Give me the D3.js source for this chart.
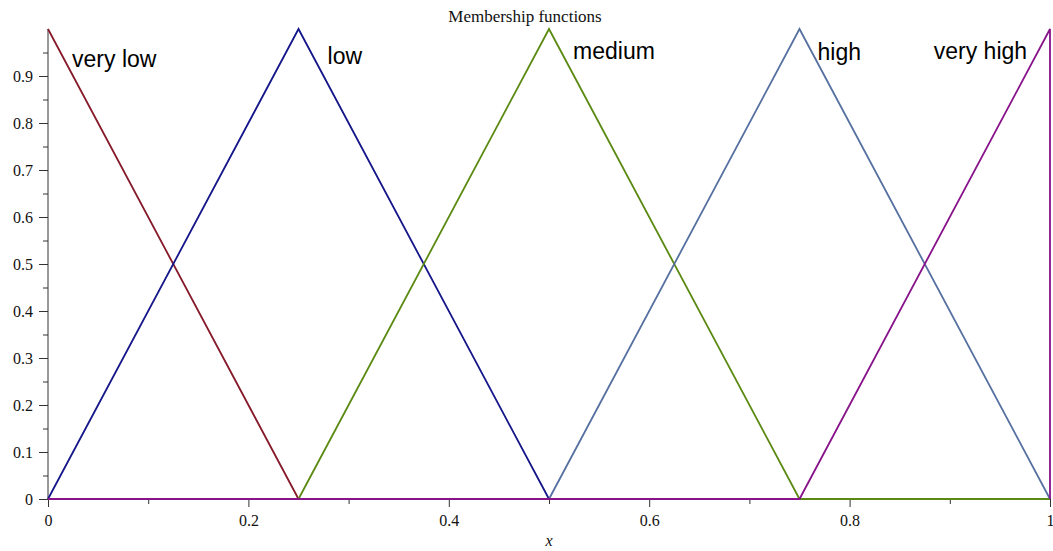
<!DOCTYPE html>
<html lang="en">
<head>
    <meta charset="UTF-8">
    <title>Membership functions</title>
    <script type="text/javascript" src="https://cdn.jsdelivr.net/npm/d3@7/dist/d3.min.js"></script>
    <style>
        body { margin: 0; background: #fff; }
        .tick text { font-family: "Liberation Serif", "Times New Roman", serif; font-size: 16px; fill: #111; }
        .domain, .tick line { stroke: #333; }
    </style>
</head>
<body>
    <script type="text/javascript">
        // breakpoints of each membership function (x, membership)
        var names = ["very low", "low", "medium", "high", "very high"];
        var colors = ["#861a2a", "#15168a", "#5b8a12", "#5670a0", "#88128a"];
        var veryLow = [[0, 1], [0.25, 0], [1, 0]];
        var low = [[0, 0], [0.25, 1], [0.5, 0], [1, 0]];
        var medium = [[0, 0], [0.25, 0], [0.5, 1], [0.75, 0], [1, 0]];
        var high = [[0, 0], [0.5, 0], [0.75, 1], [1, 0]];
        var veryHigh = [[0, 0], [0.75, 0], [1, 1], [1, 0]];
        var series = [veryLow, low, medium, high, veryHigh];

        // label anchor points in data units
        var labelPos = [[0.024, 0.919], [0.279, 0.926], [0.524, 0.937], [0.768, 0.935], [0.884, 0.937]];

        var w = 1053, h = 551;
        var svg = d3.select("body").append("svg")
            .attr("width", w)
            .attr("height", h);

        var xScale = d3.scaleLinear().domain([0, 1]).range([48, 1050]);
        var yScale = d3.scaleLinear().domain([0, 1]).range([499, 29]);

        // minor ticks first
        svg.append("g")
            .attr("transform", "translate(0,499)")
            .call(d3.axisBottom(xScale).tickValues(d3.range(0.1, 1, 0.2)).tickSize(5).tickFormat(""))
            .call(function(g) { g.select(".domain").remove(); });
        svg.append("g")
            .attr("transform", "translate(48,0)")
            .call(d3.axisLeft(yScale).tickValues(d3.range(0.05, 1, 0.1)).tickSize(5).tickFormat(""))
            .call(function(g) { g.select(".domain").remove(); });

        svg.append("g")
            .attr("transform", "translate(0,499)")
            .call(d3.axisBottom(xScale).tickValues([0, 0.2, 0.4, 0.6, 0.8, 1]).tickSize(8).tickSizeOuter(0)
                .tickFormat(function(d) { return d === 0 || d === 1 ? d : d.toFixed(1); }))
            .call(function(g) { g.selectAll(".tick text").attr("dy", "1.0em"); });

        svg.append("g")
            .attr("transform", "translate(48,0)")
            .call(d3.axisLeft(yScale).tickValues([0, 0.1, 0.2, 0.3, 0.4, 0.5, 0.6, 0.7, 0.8, 0.9]).tickSize(9).tickSizeOuter(0)
                .tickFormat(function(d) { return d === 0 ? "0" : d.toFixed(1); }))
            .call(function(g) {
                g.select(".domain").attr("d", "M0," + yScale(0) + "V" + yScale(1));
                g.selectAll(".tick text").attr("x", -15);
            });

        var line = d3.line()
            .x(function(d) { return xScale(d[0]); })
            .y(function(d) { return yScale(d[1]); });

        svg.selectAll("path.mf")
            .data(series)
            .enter()
            .append("path")
            .attr("class", "mf")
            .attr("d", line)
            .attr("fill", "none")
            .attr("stroke", function(d, i) { return colors[i]; })
            .attr("stroke-width", 1.8);

        svg.selectAll("text.lbl")
            .data(names)
            .enter()
            .append("text")
            .attr("class", "lbl")
            .attr("x", function(d, i) { return xScale(labelPos[i][0]); })
            .attr("y", function(d, i) { return yScale(labelPos[i][1]); })
            .attr("font-family", "Liberation Sans, Arial, sans-serif")
            .attr("font-size", 23)
            .attr("fill", "#000")
            .text(function(d) { return d; });

        svg.append("text")
            .attr("x", 525)
            .attr("y", 22)
            .attr("text-anchor", "middle")
            .attr("font-family", "Liberation Serif, Times New Roman, serif")
            .attr("font-size", 17)
            .attr("fill", "#111")
            .text("Membership functions");

        svg.append("text")
            .attr("x", 549)
            .attr("y", 546)
            .attr("text-anchor", "middle")
            .attr("font-family", "Liberation Serif, Times New Roman, serif")
            .attr("font-style", "italic")
            .attr("font-size", 16)
            .attr("fill", "#111")
            .text("x");
    </script>
</body>
</html>
